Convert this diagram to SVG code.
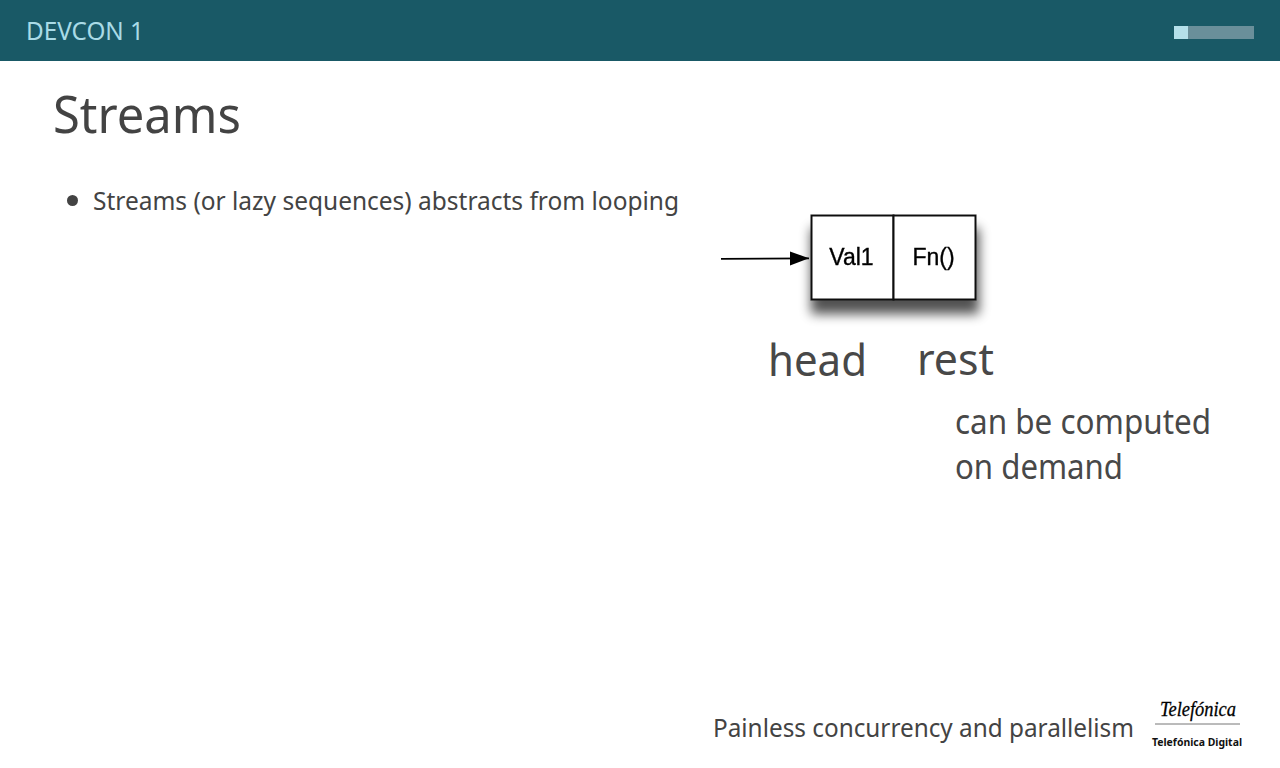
<svg xmlns="http://www.w3.org/2000/svg" width="1280" height="768" viewBox="0 0 1280 768">
<style>
text{font-family:"Noto Sans","Open Sans",sans-serif;fill:#434343}
.cell{fill:#fff;stroke:#111;stroke-width:2}
.lbl{font-family:"Liberation Sans",Arial,sans-serif;font-size:23px;fill:#000;text-anchor:middle;stroke:#000;stroke-width:.35}
.big{font-size:44px;fill:#484848}
.mid{font-size:34px;fill:#484848}
.body{font-size:26px}
</style>
<defs>
<filter id="blur" x="-20%" y="-30%" width="140%" height="160%"><feGaussianBlur stdDeviation="6"/></filter>
<filter id="soft" x="-5%" y="-5%" width="110%" height="110%"><feGaussianBlur stdDeviation=".4"/></filter>
<marker id="ah" markerUnits="userSpaceOnUse" markerWidth="20" markerHeight="16" refX="19" refY="7" orient="auto"><path d="M0 0L19 7L0 14Z" fill="#000"/></marker>
</defs>
<rect width="1280" height="61" fill="#195966"/>
<text x="26" y="40" style="font-size:26px;fill:#a9dbe6" textLength="118" lengthAdjust="spacingAndGlyphs">DEVCON 1</text>
<rect x="1174" y="26" width="80" height="13" fill="#6a8f9a"/>
<rect x="1174" y="26" width="14" height="13" fill="#b5e0ea"/>
<text x="53" y="133" style="font-size:51px" textLength="188" lengthAdjust="spacingAndGlyphs">Streams</text>
<circle cx="72.500" cy="200.500" r="5.500" fill="#434343"/>
<text class="body" x="93" y="210" textLength="586" lengthAdjust="spacingAndGlyphs">Streams (or lazy sequences) abstracts from looping</text>
<g id="connectors">
<line x1="721" y1="258.800" x2="809" y2="258.300" stroke="#000" stroke-width="1.800" marker-end="url(#ah)"/>
</g>
<g id="shadow"><rect x="811" y="228" width="168" height="86" fill="#000" opacity=".68" filter="url(#blur)"/></g>
<g filter="url(#soft)">
<g id="node-val1">
<rect class="cell" x="811.500" y="215.500" width="82" height="84"/>
<text class="lbl" x="851.500" y="265">Val1</text>
</g>
<g id="node-fn">
<rect class="cell" x="893.500" y="215.500" width="82" height="84"/>
<text class="lbl" x="933.500" y="265">Fn()</text>
</g>
</g>
<text class="big" x="768" y="376" textLength="99" lengthAdjust="spacingAndGlyphs">head</text>
<text class="big" x="917" y="374.500" textLength="77" lengthAdjust="spacingAndGlyphs">rest</text>
<text class="mid" x="955" y="434" textLength="256" lengthAdjust="spacingAndGlyphs">can be computed</text>
<text class="mid" x="955" y="479" textLength="168" lengthAdjust="spacingAndGlyphs">on demand</text>
<text class="body" x="713" y="737" textLength="421" lengthAdjust="spacingAndGlyphs">Painless concurrency and parallelism</text>
<g id="logo">
<text x="1160" y="716" style="font-family:'Liberation Serif',serif;font-style:italic;font-size:22px;fill:#000;stroke:#000;stroke-width:.3" textLength="76" lengthAdjust="spacingAndGlyphs">Telefónica</text>
<line x1="1155" y1="724" x2="1240" y2="724" stroke="#777" stroke-width="1"/>
<text x="1152" y="746" style="font-size:10.500px;font-weight:700;fill:#111" textLength="90" lengthAdjust="spacingAndGlyphs">Telefónica Digital</text>
</g>
</svg>
